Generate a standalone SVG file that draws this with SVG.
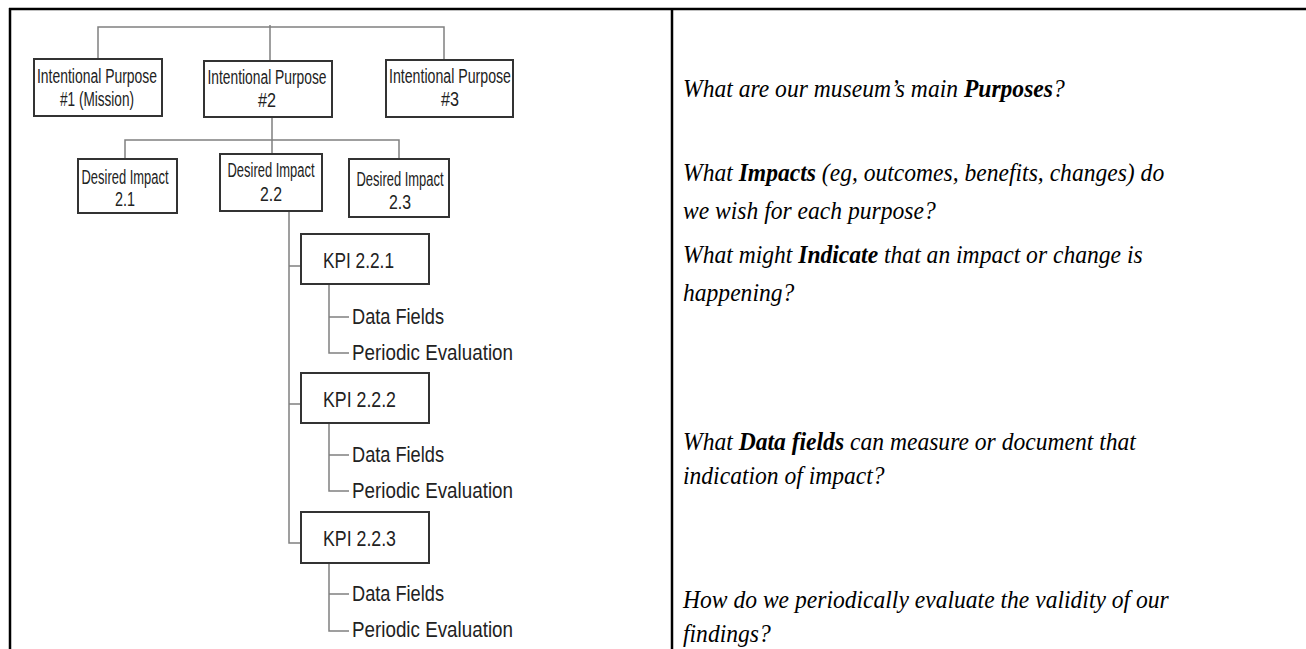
<svg xmlns="http://www.w3.org/2000/svg" width="1306" height="649" viewBox="0 0 1306 649">
<style>
.frame{stroke:#000;stroke-width:2.5;fill:none}
.box{fill:#fff;stroke:#333;stroke-width:2}
.conn{stroke:#808080;stroke-width:1.5;fill:none}
.bt{font-family:"Liberation Sans Narrow","Liberation Sans",Arial,sans-serif;font-size:19.5px;fill:#222;text-anchor:middle}
.kt{font-family:"Liberation Sans Narrow","Liberation Sans",Arial,sans-serif;font-size:22px;fill:#222}
.lt{font-family:"Liberation Sans Narrow","Liberation Sans",Arial,sans-serif;font-size:22px;fill:#222}
.q{font-family:"Liberation Serif","Times New Roman",serif;font-style:italic;font-size:25.5px;fill:#000}
.b{font-weight:bold}
</style>
<rect width="1306" height="649" fill="#fff"/>
<g id="frame">
<line class="frame" x1="9" y1="9" x2="1306" y2="9"/>
<line class="frame" x1="10" y1="8" x2="10" y2="649"/>
<line class="frame" x1="672" y1="9" x2="672" y2="649"/>
</g>
<g id="connectors">
<path class="conn" d="M98,60 V27 H444 V60 M270,25 V61"/>
<path class="conn" d="M272,117 V140 M125,159 V140 H399 V159 M272,140 V154"/>
<path class="conn" d="M289,211 V543 H301 M289,266 H301 M289,404 H301"/>
<path class="conn" d="M329,284 V353 H349 M329,317 H349"/>
<path class="conn" d="M329,423 V491 H349 M329,455 H349"/>
<path class="conn" d="M329,563 V631 H349 M329,594 H349"/>
</g>
<g id="purpose1"><rect class="box" x="34" y="59" width="128" height="57"/>
<text class="bt" x="97" y="83" textLength="120" lengthAdjust="spacingAndGlyphs">Intentional Purpose</text>
<text class="bt" x="97" y="106" textLength="74" lengthAdjust="spacingAndGlyphs">#1 (Mission)</text></g>
<g id="purpose2"><rect class="box" x="204" y="61" width="128" height="56"/>
<text class="bt" x="267" y="84" textLength="119" lengthAdjust="spacingAndGlyphs">Intentional Purpose</text>
<text class="bt" x="267" y="107" textLength="18" lengthAdjust="spacingAndGlyphs">#2</text></g>
<g id="purpose3"><rect class="box" x="386" y="60" width="127" height="57"/>
<text class="bt" x="450" y="83" textLength="122" lengthAdjust="spacingAndGlyphs">Intentional Purpose</text>
<text class="bt" x="450" y="106" textLength="18" lengthAdjust="spacingAndGlyphs">#3</text></g>
<g id="impact21"><rect class="box" x="78" y="159" width="99" height="54"/>
<text class="bt" x="125" y="184" textLength="87" lengthAdjust="spacingAndGlyphs">Desired Impact</text>
<text class="bt" x="125" y="206" textLength="20" lengthAdjust="spacingAndGlyphs">2.1</text></g>
<g id="impact22"><rect class="box" x="220" y="154" width="102" height="57"/>
<text class="bt" x="271" y="177" textLength="87" lengthAdjust="spacingAndGlyphs">Desired Impact</text>
<text class="bt" x="271" y="201" textLength="22" lengthAdjust="spacingAndGlyphs">2.2</text></g>
<g id="impact23"><rect class="box" x="349" y="159" width="100" height="58"/>
<text class="bt" x="400" y="186" textLength="87" lengthAdjust="spacingAndGlyphs">Desired Impact</text>
<text class="bt" x="400" y="209" textLength="22" lengthAdjust="spacingAndGlyphs">2.3</text></g>
<g id="kpi1"><rect class="box" x="301" y="234" width="128" height="50"/>
<text class="kt" x="323" y="268" textLength="71" lengthAdjust="spacingAndGlyphs">KPI 2.2.1</text>
<text class="lt" x="352" y="324" textLength="92" lengthAdjust="spacingAndGlyphs">Data Fields</text>
<text class="lt" x="352" y="360" textLength="161" lengthAdjust="spacingAndGlyphs">Periodic Evaluation</text></g>
<g id="kpi2"><rect class="box" x="301" y="373" width="128" height="50"/>
<text class="kt" x="323" y="407" textLength="73" lengthAdjust="spacingAndGlyphs">KPI 2.2.2</text>
<text class="lt" x="352" y="462" textLength="92" lengthAdjust="spacingAndGlyphs">Data Fields</text>
<text class="lt" x="352" y="498" textLength="161" lengthAdjust="spacingAndGlyphs">Periodic Evaluation</text></g>
<g id="kpi3"><rect class="box" x="301" y="512" width="128" height="51"/>
<text class="kt" x="323" y="546" textLength="73" lengthAdjust="spacingAndGlyphs">KPI 2.2.3</text>
<text class="lt" x="352" y="601" textLength="92" lengthAdjust="spacingAndGlyphs">Data Fields</text>
<text class="lt" x="352" y="637" textLength="161" lengthAdjust="spacingAndGlyphs">Periodic Evaluation</text></g>
<g id="questions" transform="translate(683,0) scale(0.925,1)">
<text class="q" x="0" y="97">What are our museum’s main <tspan class="b">Purposes</tspan>?</text>
<text class="q" x="0" y="181">What <tspan class="b">Impacts</tspan> (eg, outcomes, benefits, changes) do</text>
<text class="q" x="0" y="219">we wish for each purpose?</text>
<text class="q" x="0" y="263">What might <tspan class="b">Indicate</tspan> that an impact or change is</text>
<text class="q" x="0" y="301">happening?</text>
<text class="q" x="0" y="450">What <tspan class="b">Data fields</tspan> can measure or document that</text>
<text class="q" x="0" y="484">indication of impact?</text>
<text class="q" x="0" y="608">How do we periodically evaluate the validity of our</text>
<text class="q" x="0" y="642">findings?</text>
</g>
</svg>
